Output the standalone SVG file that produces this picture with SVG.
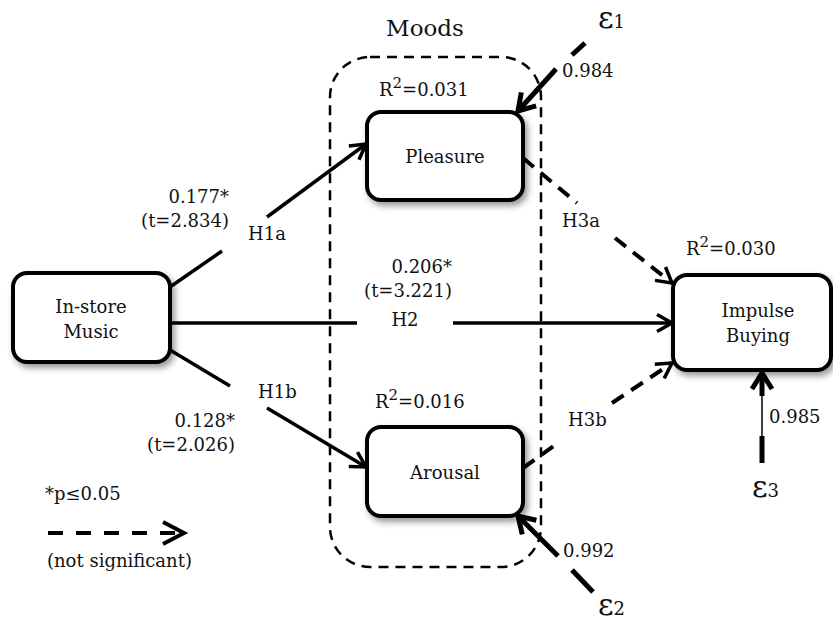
<svg xmlns="http://www.w3.org/2000/svg" width="833" height="626" viewBox="0 0 833 626">
<style>
text{font-family:"DejaVu Serif","Liberation Serif",serif;font-size:18px;fill:#111}
.mid{text-anchor:middle}
.end{text-anchor:end}
.node{fill:#fff;stroke:#000;stroke-width:4;filter:url(#sh)}
.ln{stroke:#000;stroke-width:3.5;fill:none}
.dl{stroke:#000;stroke-width:4;fill:none;stroke-dasharray:14 9}
.eps{stroke:#000;stroke-width:5;fill:none}
.eps-thin{stroke:#000;stroke-width:1.5;fill:none}
.box{fill:none;stroke:#000;stroke-width:2.5;stroke-dasharray:10 7}
.big{font-size:30px}
.sub{font-size:18px}
</style>
<defs>
<filter id="sh" x="-20%" y="-20%" width="150%" height="160%">
<feDropShadow dx="3" dy="4" stdDeviation="3" flood-color="#000" flood-opacity="0.4"/>
</filter>
<marker id="ah" markerUnits="userSpaceOnUse" viewBox="-20 -12 24 24" refX="0" refY="0" markerWidth="24" markerHeight="24" orient="auto" overflow="visible">
<path d="M-15 -8.5 L0 0 L-15 8.5" fill="none" stroke="#000" stroke-width="3.5"/>
</marker>
<marker id="ahb" markerUnits="userSpaceOnUse" viewBox="-20 -14 24 28" refX="0" refY="0" markerWidth="24" markerHeight="28" orient="auto" overflow="visible">
<path d="M-16 -10 L0 0 L-16 10" fill="none" stroke="#000" stroke-width="5"/>
</marker>
</defs>

<rect x="0" y="0" width="833" height="626" fill="#fff"/>

<g id="moods">
<rect class="box" x="330" y="57" width="211" height="510" rx="40" ry="40"/>
<text x="425" y="36" class="mid" style="font-size:23px">Moods</text>
</g>

<g id="connectors">
<line class="ln" x1="170" y1="287" x2="222" y2="251"/>
<line class="ln" x1="267" y1="217" x2="366" y2="144" marker-end="url(#ah)"/>
<line class="ln" x1="170" y1="323" x2="357" y2="323"/>
<line class="ln" x1="453" y1="323" x2="672" y2="323" marker-end="url(#ah)"/>
<line class="ln" x1="170" y1="350" x2="230" y2="386"/>
<line class="ln" x1="267" y1="408" x2="366" y2="467" marker-end="url(#ah)"/>
<line class="dl" x1="523" y1="158" x2="577" y2="203"/>
<line class="dl" x1="615" y1="238" x2="672" y2="283" marker-end="url(#ah)"/>
<line class="dl" x1="523" y1="468" x2="558" y2="443"/>
<line class="dl" x1="612" y1="403" x2="672" y2="363" marker-end="url(#ah)"/>
<line class="eps" x1="585" y1="43" x2="572" y2="55"/>
<line class="eps" x1="556" y1="69" x2="518" y2="111" marker-end="url(#ahb)"/>
<line class="eps" x1="593" y1="592" x2="572" y2="570"/>
<line class="eps" x1="558" y1="556" x2="518" y2="516" marker-end="url(#ahb)"/>
<line class="eps" x1="762" y1="463" x2="762" y2="436"/>
<line class="eps-thin" x1="762" y1="436" x2="762" y2="396"/>
<line class="eps" x1="762" y1="396" x2="762" y2="373" marker-end="url(#ahb)"/>
<line x1="48" y1="533" x2="180" y2="533" stroke="#000" stroke-width="4" stroke-dasharray="15 13"/>
<path d="M163 522 L184 533 L163 544" fill="none" stroke="#000" stroke-width="4"/>
</g>

<g id="instore">
<rect class="node" x="13" y="273" width="157" height="89" rx="14" ry="14"/>
<text x="91" y="313" class="mid">In-store</text>
<text x="91" y="338" class="mid">Music</text>
</g>

<g id="pleasure">
<rect class="node" x="367" y="112" width="156" height="88" rx="14" ry="14"/>
<text x="445" y="163" class="mid">Pleasure</text>
<text x="379" y="96">R<tspan dy="-8" style="font-size:15px">2</tspan><tspan dy="8">=0.031</tspan></text>
</g>

<g id="arousal">
<rect class="node" x="367" y="427" width="156" height="89" rx="14" ry="14"/>
<text x="445" y="479" class="mid">Arousal</text>
<text x="375" y="408">R<tspan dy="-8" style="font-size:15px">2</tspan><tspan dy="8">=0.016</tspan></text>
</g>

<g id="impulse">
<rect class="node" x="673" y="275" width="158" height="95" rx="14" ry="14"/>
<text x="758" y="317" class="mid">Impulse</text>
<text x="758" y="342" class="mid">Buying</text>
<text x="686" y="255">R<tspan dy="-8" style="font-size:15px">2</tspan><tspan dy="8">=0.030</tspan></text>
</g>

<g id="labels">
<text x="229" y="203" class="end">0.177*</text>
<text x="229" y="227" class="end">(t=2.834)</text>
<text x="248" y="240">H1a</text>
<text x="452" y="273" class="end">0.206*</text>
<text x="452" y="297" class="end">(t=3.221)</text>
<text x="405" y="326" class="mid">H2</text>
<text x="258" y="398">H1b</text>
<text x="235" y="427" class="end">0.128*</text>
<text x="235" y="451" class="end">(t=2.026)</text>
<text x="562" y="227">H3a</text>
<text x="568" y="426">H3b</text>
<text x="562" y="77">0.984</text>
<text x="563" y="557">0.992</text>
<text x="769" y="423">0.985</text>
<text x="45" y="500">*p≤0.05</text>
<text x="47" y="567">(not significant)</text>
</g>

<g id="e1"><text x="598" y="28"><tspan class="big">ε</tspan><tspan class="sub">1</tspan></text></g>
<g id="e2"><text x="598" y="615"><tspan class="big">ε</tspan><tspan class="sub">2</tspan></text></g>
<g id="e3"><text x="752" y="497"><tspan class="big">ε</tspan><tspan class="sub">3</tspan></text></g>
</svg>
